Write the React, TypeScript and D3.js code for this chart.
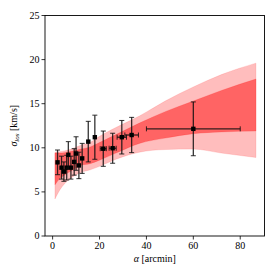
import React from "react";
import * as d3 from "d3";

const bandX = [1, 3, 5, 8, 12, 16, 20, 27, 37, 48, 60, 72, 86.7];
const outerTop = [9.5, 9.55, 9.65, 9.85, 10.3, 10.6, 11.3, 12.3, 13.6, 15.3, 16.9, 18.3, 19.6];
const innerTop = [9.4, 9.4, 9.45, 9.6, 9.85, 10.1, 10.6, 11.5, 12.8, 14.1, 15.3, 16.5, 17.8];
const innerBot = [5.8, 6.5, 6.9, 7.4, 8.0, 8.2, 8.6, 9.4, 10.5, 11.1, 11.6, 11.8, 11.9];
const outerBot = [4.2, 5.2, 5.9, 6.6, 7.2, 7.5, 7.9, 8.7, 9.5, 9.8, 9.85, 9.4, 8.9];

const ptX = [2.1, 3.8, 4.8, 6.0, 6.7, 7.8, 9.2, 10.0, 11.2, 12.6, 15.2, 18.0, 21.6, 25.6, 29.5, 33.7, 60];
const ptY = [8.35, 7.75, 7.3, 7.75, 9.2, 7.75, 8.4, 9.35, 8.0, 8.8, 10.7, 11.2, 9.9, 9.95, 11.2, 11.45, 12.15];
const ptYErr = [1.4, 1.3, 1.1, 1.4, 1.5, 1.3, 1.5, 1.9, 1.5, 1.7, 2.3, 2.5, 2.0, 1.7, 1.9, 2.0, 3.05];
const ptXErr = [0, 0, 0, 0, 0, 0, 0, 0, 0, 0, 0, 0, 1.3, 1.5, 2.0, 2.9, 20];

const xTicks = [0, 20, 40, 60, 80];
const yTicks = [0, 5, 10, 15, 20, 25];

export default function App() {
  const W = 280, H = 280;
  const L = 45, R = 264.5, T = 15.5, B = 236;
  const x = d3.scaleLinear().domain([-3.25, 90.35]).range([L, R]);
  const y = d3.scaleLinear().domain([0, 25]).range([B, T]);
  const font = "'Liberation Serif', 'Times New Roman', Times, serif";

  const outerArea = d3
    .area<number>()
    .x((_, i) => x(bandX[i]))
    .y0((_, i) => y(outerBot[i]))
    .y1((_, i) => y(outerTop[i]))
    .curve(d3.curveMonotoneX);
  const innerArea = d3
    .area<number>()
    .x((_, i) => x(bandX[i]))
    .y0((_, i) => y(innerBot[i]))
    .y1((_, i) => y(innerTop[i]))
    .curve(d3.curveMonotoneX);

  const cap = 2.5;
  return (
    <svg width={W} height={H} style={{ position: "absolute", left: 0, top: 0, fontFamily: font }}>
      <rect x={0} y={0} width={W} height={H} fill="#fff" />
      <path d={outerArea(bandX) || ""} fill="#ff0000" fillOpacity={0.26} stroke="#ff0000" strokeOpacity={0.15} strokeWidth={0.8} />
      <path d={innerArea(bandX) || ""} fill="#ff0000" fillOpacity={0.47} stroke="#ff0000" strokeOpacity={0.2} strokeWidth={0.8} />
      {ptX.map((px, i) => {
        const cx = x(px), cy = y(ptY[i]);
        const y0 = y(ptY[i] - ptYErr[i]), y1 = y(ptY[i] + ptYErr[i]);
        const xe = ptXErr[i];
        return (
          <g key={i} stroke="#111" strokeOpacity={0.85}>
            <line x1={cx} x2={cx} y1={y0} y2={y1} strokeWidth={1.3} />
            <line x1={cx - cap} x2={cx + cap} y1={y0} y2={y0} strokeWidth={1} />
            <line x1={cx - cap} x2={cx + cap} y1={y1} y2={y1} strokeWidth={1} />
            {xe > 0 && (
              <>
                <line x1={x(px - xe)} x2={x(px + xe)} y1={cy} y2={cy} strokeWidth={1.3} />
                <line x1={x(px - xe)} x2={x(px - xe)} y1={cy - cap} y2={cy + cap} strokeWidth={1} />
                <line x1={x(px + xe)} x2={x(px + xe)} y1={cy - cap} y2={cy + cap} strokeWidth={1} />
              </>
            )}
            <rect x={cx - 2.2} y={cy - 2.2} width={4.4} height={4.4} fill="#000" stroke="none" />
          </g>
        );
      })}
      <rect x={L} y={T} width={R - L} height={B - T} fill="none" stroke="#000" strokeWidth={0.9} />
      {xTicks.map((t) => (
        <g key={"x" + t}>
          <line x1={x(t)} x2={x(t)} y1={B} y2={B + 3.5} stroke="#000" strokeWidth={0.8} />
          <text x={x(t)} y={249} fontSize={10} textAnchor="middle">{t}</text>
        </g>
      ))}
      {yTicks.map((t) => (
        <g key={"y" + t}>
          <line x1={L - 3.5} x2={L} y1={y(t)} y2={y(t)} stroke="#000" strokeWidth={0.8} />
          <text x={L - 5.5} y={y(t) + 3.4} fontSize={10} textAnchor="end">{t}</text>
        </g>
      ))}
      <text x={(L + R) / 2} y={262} fontSize={10} textAnchor="middle">
        <tspan fontStyle="italic">α</tspan> [arcmin]
      </text>
      <text transform={`translate(17, ${(T + B) / 2}) rotate(-90)`} fontSize={10} textAnchor="middle">
        <tspan fontStyle="italic">σ</tspan>
        <tspan fontStyle="italic" fontSize={7} dy={2}>los</tspan>
        <tspan dy={-2}> [km/s]</tspan>
      </text>
    </svg>
  );
}
